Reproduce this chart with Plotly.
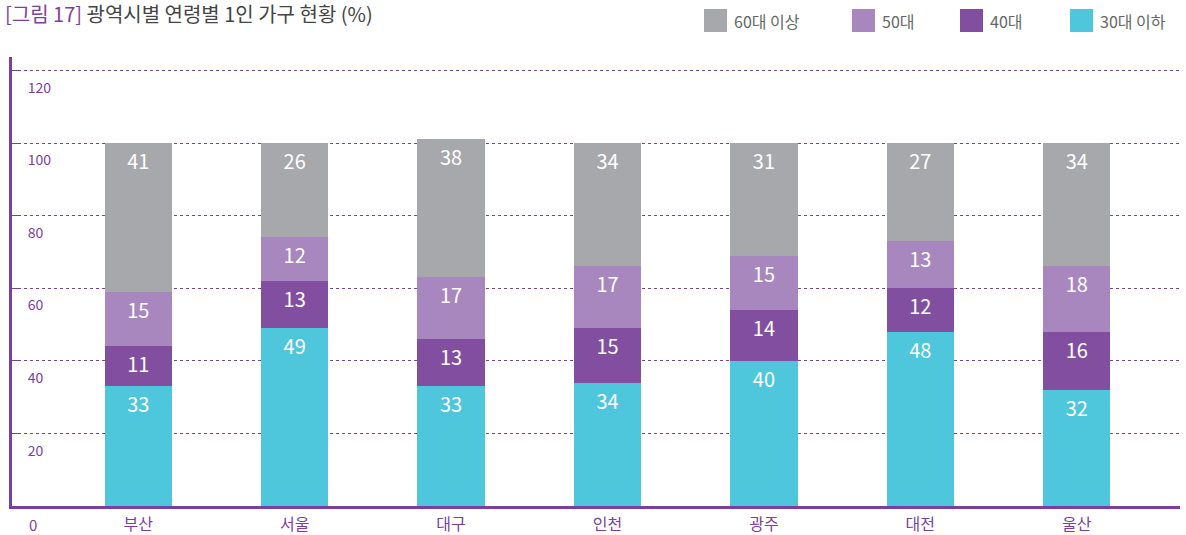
import plotly.graph_objects as go

cities = ["부산", "서울", "대구", "인천", "광주", "대전", "울산"]
age_30_below = [33, 49, 33, 34, 40, 48, 32]
age_40 = [11, 13, 13, 15, 14, 12, 16]
age_50 = [15, 12, 17, 17, 15, 13, 18]
age_60_above = [41, 26, 38, 34, 31, 27, 34]
y_ticks = [20, 40, 60, 80, 100, 120]

series = [
    ("30대 이하", age_30_below, "#4ec6dc"),
    ("40대", age_40, "#824fa0"),
    ("50대", age_50, "#a886be"),
    ("60대 이상", age_60_above, "#a7a8ac"),
]

PURPLE = "#7b3fa0"
FONT = "Noto Sans CJK KR, Noto Sans, sans-serif"

W, H = 1186, 535
ML, MR, MT, MB = 12, 6, 57, 29
PW, PH = W - ML - MR, H - MT - MB


def px_x(px):
    return (px - ML) / PW


def px_y(py):
    return (H - MB - py) / PH


x_idx = list(range(len(cities)))
fig = go.Figure()
for name, vals, color in series:
    fig.add_trace(go.Bar(
        x=x_idx, y=vals, name=name, marker=dict(color=color, line=dict(width=0)),
        width=0.43, text=[str(v) for v in vals], textposition="inside",
        insidetextanchor="end", textangle=0,
        textfont=dict(color="white", size=20, family=FONT),
        showlegend=False, hoverinfo="name+y",
    ))

# manual legend (large squares)
legend_items = [("60대 이상", "#a7a8ac", 704), ("50대", "#a886be", 852),
                ("40대", "#824fa0", 960), ("30대 이하", "#4ec6dc", 1070)]
shapes = []
annotations = []
for label, color, px in legend_items:
    shapes.append(dict(type="rect", xref="paper", yref="paper",
                       x0=px_x(px), x1=px_x(px + 23),
                       y0=px_y(32), y1=px_y(9),
                       fillcolor=color, line=dict(width=0)))
    annotations.append(dict(text=label, xref="paper", yref="paper",
                            x=px_x(px + 28), y=px_y(21),
                            xanchor="left", yanchor="middle", showarrow=False,
                            font=dict(size=16, color="#666666", family=FONT)))

annotations.append(dict(
    text="<span style='color:#7f3f98'>[그림 17]</span> 광역시별 연령별 1인 가구 현황 (%)",
    xref="paper", yref="paper", x=px_x(3), y=px_y(14),
    xanchor="left", yanchor="middle", showarrow=False,
    font=dict(size=20, color="#444444", family=FONT)))

annotations.append(dict(text="0", xref="paper", yref="y", x=px_x(27), y=0,
                        xanchor="left", yanchor="middle", yshift=-18, showarrow=False,
                        font=dict(size=15, color=PURPLE, family=FONT)))

fig.update_layout(
    width=W, height=H,
    margin=dict(l=ML, r=MR, t=MT, b=MB, pad=0),
    barmode="stack",
    plot_bgcolor="white", paper_bgcolor="white",
    font=dict(family=FONT),
    shapes=shapes, annotations=annotations,
    uniformtext=dict(mode="show", minsize=10),
    xaxis=dict(
        range=[-0.807, 6.66], tickvals=x_idx, ticktext=cities, automargin=False,
        showgrid=False, zeroline=False, showline=True, linecolor=PURPLE, linewidth=3,
        ticks="", ticklabelstandoff=2,
        tickfont=dict(size=16, color=PURPLE, family=FONT),
    ),
    yaxis=dict(
        range=[0, 123.7], tickvals=y_ticks, ticktext=[str(v) for v in y_ticks],
        automargin=False,
        showgrid=True, gridcolor=PURPLE, gridwidth=1, griddash="3px,3px",
        zeroline=False, showline=True, linecolor=PURPLE, linewidth=3,
        ticks="inside", ticklen=9, tickcolor=PURPLE, tickwidth=1,
        ticklabelposition="inside bottom", ticklabelstandoff=14, ticklabelshift=7,
        tickfont=dict(size=14, color=PURPLE, family=FONT),
    ),
)

fig.write_html("out.html", config={"displayModeBar": False},
               post_script="document.body.style.margin='0';")
